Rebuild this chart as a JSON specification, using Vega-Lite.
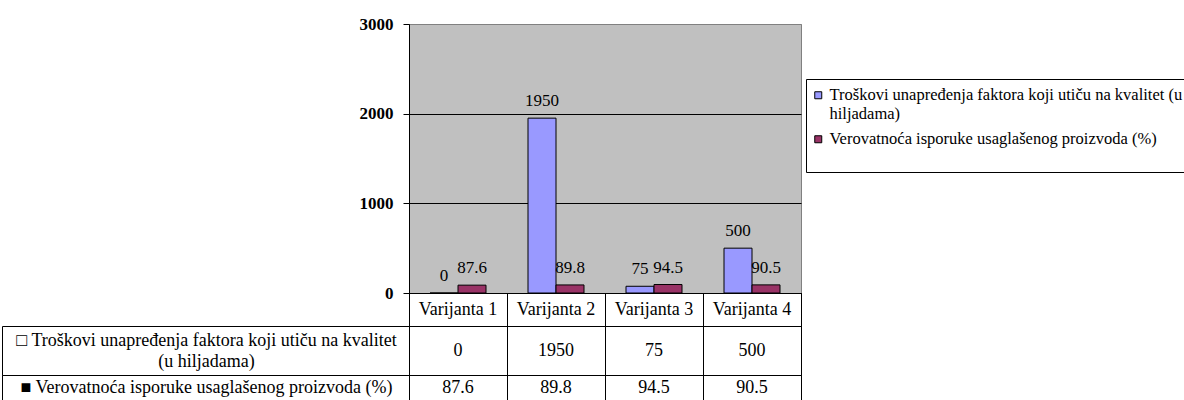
{
  "$schema": "https://vega.github.io/schema/vega-lite/v6.json",
  "padding": {"left": 1, "top": 14, "right": 0, "bottom": 0},
  "background": "white",
  "config": {
    "font": "Liberation Serif, DejaVu Sans",
    "view": {"stroke": "black"},
    "axis": {"labelColor": "black", "titleColor": "black", "labelFont": "Liberation Serif, DejaVu Sans"},
    "legend": {"labelColor": "black", "titleColor": "black", "labelFont": "Liberation Serif, DejaVu Sans"},
    "text": {"font": "Liberation Serif, DejaVu Sans"}
  },
  "datasets": {
    "d": [
      {"varijanta": "Varijanta 1", "serija": "Troškovi unapređenja faktora koji utiču na kvalitet (u hiljadama)", "vrednost": 0},
      {"varijanta": "Varijanta 2", "serija": "Troškovi unapređenja faktora koji utiču na kvalitet (u hiljadama)", "vrednost": 1950},
      {"varijanta": "Varijanta 3", "serija": "Troškovi unapređenja faktora koji utiču na kvalitet (u hiljadama)", "vrednost": 75},
      {"varijanta": "Varijanta 4", "serija": "Troškovi unapređenja faktora koji utiču na kvalitet (u hiljadama)", "vrednost": 500},
      {"varijanta": "Varijanta 1", "serija": "Verovatnoća isporuke usaglašenog proizvoda (%)", "vrednost": 87.6},
      {"varijanta": "Varijanta 2", "serija": "Verovatnoća isporuke usaglašenog proizvoda (%)", "vrednost": 89.8},
      {"varijanta": "Varijanta 3", "serija": "Verovatnoća isporuke usaglašenog proizvoda (%)", "vrednost": 94.5},
      {"varijanta": "Varijanta 4", "serija": "Verovatnoća isporuke usaglašenog proizvoda (%)", "vrednost": 90.5}
    ]
  },
  "data": {"name": "d"},
  "spacing": 0,
  "bounds": "flush",
  "resolve": {"legend": {"color": "independent"}},
  "vconcat": [
    {
      "width": 392,
      "height": 269,
      "view": {"fill": "#C0C0C0", "stroke": "#808080"},
      "encoding": {
        "x": {
          "field": "varijanta", "type": "nominal",
          "sort": ["Varijanta 1", "Varijanta 2", "Varijanta 3", "Varijanta 4"],
          "scale": {"paddingInner": 0, "paddingOuter": 0},
          "axis": {"title": null, "labels": false, "ticks": false, "domain": true, "domainColor": "black"}
        },
        "xOffset": {
          "field": "serija", "type": "nominal",
          "sort": ["Troškovi unapređenja faktora koji utiču na kvalitet (u hiljadama)", "Verovatnoća isporuke usaglašenog proizvoda (%)"],
          "scale": {"paddingInner": 0, "paddingOuter": 0.75}
        },
        "y": {
          "field": "vrednost", "type": "quantitative",
          "scale": {"domain": [0, 3000], "nice": false},
          "axis": {
            "title": null, "values": [0, 1000, 2000, 3000], "format": "d", "grid": true,
            "gridColor": {"condition": {"test": "datum.value === 3000", "value": "#808080"}, "value": "black"},
            "gridOpacity": 1, "domainColor": "black", "tickColor": "black", "tickSize": 6,
            "labelPadding": 10, "labelFontSize": 17, "labelFontWeight": "bold", "labelFlush": false
          }
        }
      },
      "layer": [
        {
          "mark": {"type": "bar", "stroke": "black", "strokeWidth": 1},
          "encoding": {
            "color": {
              "field": "serija", "type": "nominal",
              "scale": {
                "domain": ["Troškovi unapređenja faktora koji utiču na kvalitet (u hiljadama)", "Verovatnoća isporuke usaglašenog proizvoda (%)"],
                "range": ["#9999FF", "#993366"]
              },
              "legend": {
                "orient": "none", "legendX": 397, "legendY": 55,
                "title": " ", "titleOrient": "bottom", "titleFontSize": 12,
                "strokeColor": "black", "fillColor": "white", "padding": 8,
                "labelFontSize": 16.5, "labelLimit": 1000, "labelOffset": 3, "symbolOffset": -4,
                "labelExpr": "datum.label == 'Troškovi unapređenja faktora koji utiču na kvalitet (u hiljadama)' ? ['Troškovi unapređenja faktora koji utiču na kvalitet (u', 'hiljadama)'] : datum.label",
                "labelLineHeight": 19,
                "symbolType": "square", "symbolSize": 49, "symbolStrokeColor": "black", "symbolStrokeWidth": 1,
                "rowPadding": 8
              }
            }
          }
        },
        {
          "mark": {"type": "text", "dy": -17, "baseline": "middle", "fontSize": 17, "color": "black"},
          "encoding": {"text": {"field": "vrednost", "type": "nominal"}}
        }
      ]
    },
    {
      "width": 392,
      "height": 33,
      "view": {"stroke": "black"},
      "transform": [{"filter": "datum.serija == 'Troškovi unapređenja faktora koji utiču na kvalitet (u hiljadama)'"}],
      "mark": {"type": "text", "fontSize": 18, "color": "black", "baseline": "middle"},
      "encoding": {
        "x": {
          "field": "varijanta", "type": "nominal",
          "sort": ["Varijanta 1", "Varijanta 2", "Varijanta 3", "Varijanta 4"],
          "scale": {"paddingInner": 0, "paddingOuter": 0},
          "axis": {"title": null, "labels": false, "ticks": false, "domain": false, "grid": true, "gridColor": "black", "gridOpacity": 1, "tickBand": "extent"}
        },
        "text": {"field": "varijanta", "type": "nominal"}
      }
    },
    {
      "width": 392,
      "height": 49,
      "view": {"stroke": "black"},
      "transform": [{"filter": "datum.serija == 'Troškovi unapređenja faktora koji utiču na kvalitet (u hiljadama)'"}],
      "mark": {"type": "text", "fontSize": 18, "color": "black", "baseline": "middle"},
      "encoding": {
        "x": {
          "field": "varijanta", "type": "nominal",
          "sort": ["Varijanta 1", "Varijanta 2", "Varijanta 3", "Varijanta 4"],
          "scale": {"paddingInner": 0, "paddingOuter": 0},
          "axis": {"title": null, "labels": false, "ticks": false, "domain": false, "grid": true, "gridColor": "black", "gridOpacity": 1, "tickBand": "extent"}
        },
        "y": {
          "field": "serija", "type": "nominal",
          "scale": {"paddingInner": 0, "paddingOuter": 0},
          "axis": {
            "title": null, "orient": "left", "offset": 407, "domainColor": "black", "tickColor": "black",
            "tickBand": "extent", "tickSize": -407, "labelAlign": "center", "labelBaseline": "middle",
            "labelPadding": 203, "labelFontSize": 18, "labelLineHeight": 21, "labelLimit": 1000, "labelOffset": -10.5,
            "labelExpr": "datum.label == 'Troškovi unapređenja faktora koji utiču na kvalitet (u hiljadama)' ? ['□ Troškovi unapređenja faktora koji utiču na kvalitet', '(u hiljadama)'] : ''",
            "grid": false
          }
        },
        "text": {"field": "vrednost", "type": "nominal"}
      }
    },
    {
      "width": 392,
      "height": 25,
      "view": {"stroke": "black"},
      "transform": [{"filter": "datum.serija == 'Verovatnoća isporuke usaglašenog proizvoda (%)'"}],
      "mark": {"type": "text", "fontSize": 18, "color": "black", "baseline": "middle"},
      "encoding": {
        "x": {
          "field": "varijanta", "type": "nominal",
          "sort": ["Varijanta 1", "Varijanta 2", "Varijanta 3", "Varijanta 4"],
          "scale": {"paddingInner": 0, "paddingOuter": 0},
          "axis": {"title": null, "labels": false, "ticks": false, "domain": false, "grid": true, "gridColor": "black", "gridOpacity": 1, "tickBand": "extent"}
        },
        "y": {
          "field": "serija", "type": "nominal",
          "scale": {"paddingInner": 0, "paddingOuter": 0},
          "axis": {
            "title": null, "orient": "left", "offset": 407, "domainColor": "black", "tickColor": "black",
            "tickBand": "extent", "tickSize": -407, "labelAlign": "center", "labelBaseline": "middle",
            "labelPadding": 203, "labelFontSize": 18, "labelLimit": 1000,
            "labelExpr": "datum.label == 'Verovatnoća isporuke usaglašenog proizvoda (%)' ? '■ ' + datum.label : ''",
            "grid": false
          }
        },
        "text": {"field": "vrednost", "type": "nominal"}
      }
    }
  ]
}
